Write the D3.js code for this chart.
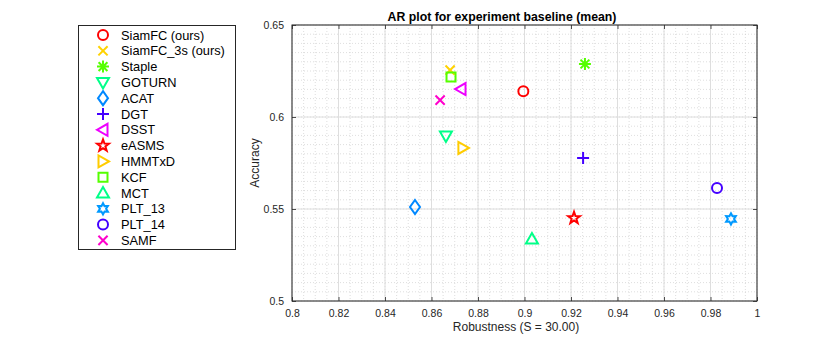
<!DOCTYPE html>
<html><head><meta charset="utf-8">
<script src="https://cdn.jsdelivr.net/npm/d3@7"></script>
<style>body{margin:0;background:#fff}svg{display:block;font-family:"Liberation Sans",Arial,sans-serif}</style>
</head><body><svg id="c" width="814" height="338"></svg>
<script>
const trackers = ["SiamFC (ours)","SiamFC_3s (ours)","Staple","GOTURN","ACAT","DGT","DSST","eASMS","HMMTxD","KCF","MCT","PLT_13","PLT_14","SAMF"];
const robustness = [0.8995,0.868,0.926,0.8662,0.8529,0.9252,0.8727,0.9213,0.8735,0.8684,0.9032,0.9888,0.9828,0.8637];
const accuracy = [0.614,0.6255,0.6288,0.5897,0.5511,0.5777,0.6152,0.5451,0.5832,0.6217,0.5337,0.5446,0.5614,0.6092];
const markers = ["o","x","*","v","d","+","<","p",">","s","^","h","o","x"];
const colors = ["#ff0000","#ffd200","#55ff00","#00ff88","#0088ff","#4400ff","#ee00ff","#ff0000","#ffcc00","#55ff00","#00ff88","#0099ff","#4400ff","#ff00cc"];
const xTicks = [0.8,0.82,0.84,0.86,0.88,0.9,0.92,0.94,0.96,0.98,1];
const yTicks = [0.5,0.55,0.6,0.65];
const titleText = "AR plot for experiment baseline (mean)";
const xLabel = "Robustness (S = 30.00)";
const yLabel = "Accuracy";

const svg = d3.select("#c");
const L=292,R=757,T=25,B=301;
const x = d3.scaleLinear().domain([0.8,1]).range([L,R]);
const y = d3.scaleLinear().domain([0.5,0.65]).range([B,T]);

function markerPath(t){
  const p = d3.path();
  const r = 5;
  if(t==="o"){ p.arc(0,0,r,0,2*Math.PI); p.closePath(); }
  else if(t==="x"){ const a=4.6; p.moveTo(-a,-a);p.lineTo(a,a);p.moveTo(-a,a);p.lineTo(a,-a); }
  else if(t==="+"){ const a=6; p.moveTo(-a,0);p.lineTo(a,0);p.moveTo(0,-a);p.lineTo(0,a); }
  else if(t==="*"){ const a=6,b=4.4; p.moveTo(-a,0);p.lineTo(a,0);p.moveTo(0,-a);p.lineTo(0,a);p.moveTo(-b,-b);p.lineTo(b,b);p.moveTo(-b,b);p.lineTo(b,-b); }
  else if(t==="s"){ p.rect(-4.5,-4.5,9,9); }
  else if(t==="d"){ p.moveTo(0,-7);p.lineTo(5,0);p.lineTo(0,7);p.lineTo(-5,0);p.closePath(); }
  else if(t==="^"){ p.moveTo(0,-6);p.lineTo(6,4.5);p.lineTo(-6,4.5);p.closePath(); }
  else if(t==="v"){ p.moveTo(0,6);p.lineTo(6,-4.5);p.lineTo(-6,-4.5);p.closePath(); }
  else if(t==="<"){ p.moveTo(-6,0);p.lineTo(4.5,-6);p.lineTo(4.5,6);p.closePath(); }
  else if(t===">"){ p.moveTo(6,0);p.lineTo(-4.5,-6);p.lineTo(-4.5,6);p.closePath(); }
  else if(t==="p"){ const ro=6.2,ri=2.5; for(let i=0;i<10;i++){const rr=i%2?ri:ro,a=-Math.PI/2+i*Math.PI/5; const px=rr*Math.cos(a),py=rr*Math.sin(a); i?p.lineTo(px,py):p.moveTo(px,py);} p.closePath(); }
  else if(t==="h"){ const ro=5.6,ri=3.1; for(let i=0;i<12;i++){const rr=i%2?ri:ro,a=-Math.PI/2+i*Math.PI/6; const px=rr*Math.cos(a),py=rr*Math.sin(a); i?p.lineTo(px,py):p.moveTo(px,py);} p.closePath(); }
  return p.toString();
}

// minor grid
const minorX = d3.range(0,41).map(i=>0.8+i*0.005);
const minorY = d3.range(0,31).map(i=>0.5+i*0.005);
const g = svg.append("g");
g.selectAll(".mx").data(minorX).join("line").attr("x1",d=>x(d)).attr("x2",d=>x(d)).attr("y1",T).attr("y2",B)
  .attr("stroke","#c8c8c8").attr("stroke-width",0.6).attr("stroke-dasharray","1,2");
g.selectAll(".my").data(minorY).join("line").attr("y1",d=>y(d)).attr("y2",d=>y(d)).attr("x1",L).attr("x2",R)
  .attr("stroke","#c8c8c8").attr("stroke-width",0.6).attr("stroke-dasharray","1,2");
// major grid
g.selectAll(".gx").data(xTicks).join("line").attr("x1",d=>x(d)).attr("x2",d=>x(d)).attr("y1",T).attr("y2",B)
  .attr("stroke","#dedede").attr("stroke-width",1);
g.selectAll(".gy").data(yTicks).join("line").attr("y1",d=>y(d)).attr("y2",d=>y(d)).attr("x1",L).attr("x2",R)
  .attr("stroke","#dedede").attr("stroke-width",1);

// axes
const fmt = d=>d3.format("")(+d.toFixed(2));
const ax = d3.axisBottom(x).tickValues(xTicks).tickSize(-4).tickPadding(9).tickFormat(fmt);
const ay = d3.axisLeft(y).tickValues(yTicks).tickSize(-4).tickPadding(8).tickFormat(fmt);
const axT = d3.axisTop(x).tickValues(xTicks).tickSize(-4).tickFormat("");
const ayR = d3.axisRight(y).tickValues(yTicks).tickSize(-4).tickFormat("");
function style(sel){ sel.selectAll("path,line").attr("stroke","#262626").attr("stroke-width",0.8);
  sel.selectAll("text").attr("fill","#262626").attr("font-size",10.5).attr("font-family","Liberation Sans, Arial, sans-serif"); sel.select(".domain").remove(); }
svg.append("g").attr("transform",`translate(0,${B})`).call(ax).call(style);
svg.append("g").attr("transform",`translate(${L},0)`).call(ay).call(style);
svg.append("g").attr("transform",`translate(0,${T})`).call(axT).call(style);
svg.append("g").attr("transform",`translate(${R},0)`).call(ayR).call(style);
svg.append("rect").attr("x",L).attr("y",T).attr("width",R-L).attr("height",B-T).attr("fill","none").attr("stroke","#262626").attr("stroke-width",1);

// title & labels
svg.append("text").attr("x",502).attr("y",21).attr("text-anchor","middle").attr("font-weight","bold").attr("font-size",12.3).attr("fill","#000").text(titleText);
svg.append("text").attr("x",516).attr("y",331).attr("text-anchor","middle").attr("font-size",12).attr("fill","#262626").text(xLabel);
svg.append("text").attr("transform","translate(259,163) rotate(-90)").attr("text-anchor","middle").attr("font-size",12).attr("fill","#262626").text(yLabel);

// points
const data = trackers.map((n,i)=>({n,x:robustness[i],y:accuracy[i],m:markers[i],c:colors[i]}));
svg.append("g").selectAll("path").data(data).join("path")
  .attr("transform",d=>`translate(${x(d.x)},${y(d.y)})`)
  .attr("d",d=>markerPath(d.m)).attr("fill","none").attr("stroke",d=>d.c).attr("stroke-width",2);

// legend
const lg = svg.append("g");
lg.append("rect").attr("x",78.5).attr("y",25.5).attr("width",157).attr("height",224).attr("fill","#fff").attr("stroke","#262626").attr("stroke-width",1);
const row = lg.selectAll("g.r").data(data).join("g").attr("transform",(d,i)=>`translate(0,${35+i*15.8})`);
row.append("path").attr("transform","translate(103,0)").attr("d",d=>markerPath(d.m)).attr("fill","none").attr("stroke",d=>d.c).attr("stroke-width",2);
row.append("text").attr("x",121).attr("y",4.5).attr("font-size",12.8).attr("fill","#000").text(d=>d.n);
</script></body></html>
